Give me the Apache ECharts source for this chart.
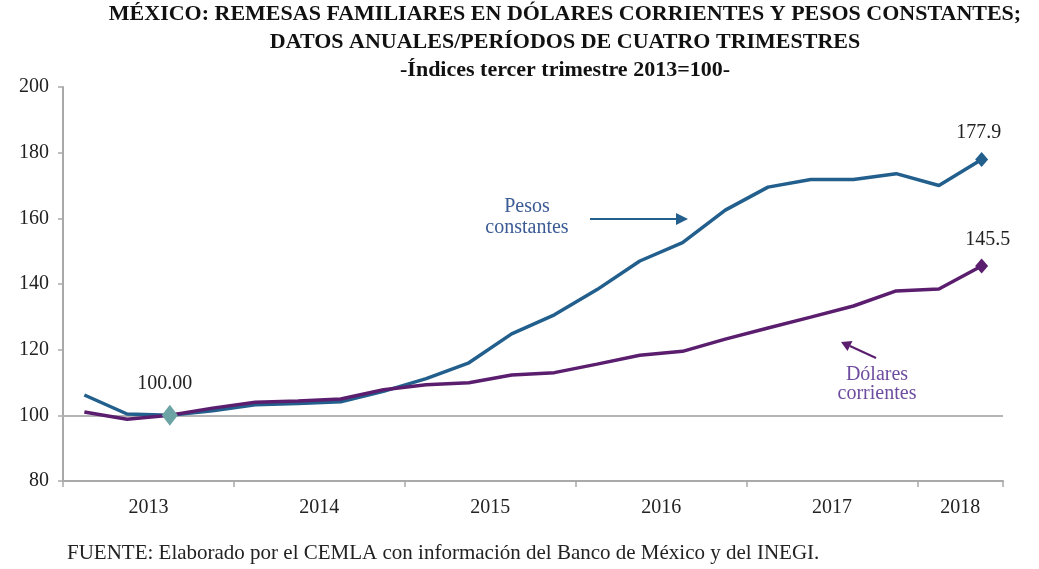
<!DOCTYPE html>
<html>
<head>
<meta charset="utf-8">
<script src="https://cdn.jsdelivr.net/npm/echarts@6/dist/echarts.min.js"></script>
<style>
  html, body { margin: 0; padding: 0; background: #fff; }
  #chart { width: 1039px; height: 569px; }
</style>
</head>
<body>
<div id="chart"></div>
<script>
  // trimestres (periodos de cuatro trimestres)
  const quarters = [
    '2013 T1', '2013 T2', '2013 T3', '2013 T4',
    '2014 T1', '2014 T2', '2014 T3', '2014 T4',
    '2015 T1', '2015 T2', '2015 T3', '2015 T4',
    '2016 T1', '2016 T2', '2016 T3', '2016 T4',
    '2017 T1', '2017 T2', '2017 T3', '2017 T4',
    '2018 T1', '2018 T2'
  ]
  const years = ['2013', '2014', '2015', '2016', '2017', '2018']
  const pesosConstantes = [106.2, 100.4, 100.0, 101.4, 103.2, 103.6, 104.1, 107.3, 111.2, 116.0, 124.8,
    130.6, 138.3, 147.0, 152.6, 162.5, 169.5, 171.8, 171.8, 173.6, 170.0, 177.9]
  const dolaresCorrientes = [101.0, 98.8, 100.0, 102.2, 104.0, 104.4, 105.0, 107.8, 109.3, 109.9, 112.3,
    113.0, 115.6, 118.3, 119.5, 123.2, 126.6, 129.9, 133.3, 137.9, 138.5, 145.5]
  const yMin = 80, yMax = 200, yStep = 20
  const baseIndex = 2   // tercer trimestre 2013 = 100

  const serif = 'Liberation Serif'
  const blue = '#225f8d'
  const purple = '#5b1e6e'
  const axisGray = '#a9a9a9'

  // posicion de cada año: centro de sus trimestres
  const yearAt = {}
  years.forEach(y => {
    const idx = []
    quarters.forEach((q, i) => { if (q.indexOf(y) === 0) idx.push(i + 0.5) })
    yearAt[idx.reduce((a, b) => a + b, 0) / idx.length] = y
  })

  const last = quarters.length - 1
  const labelStyle = { show: true, position: 'top', distance: 7, fontFamily: serif, fontSize: 20, color: '#222' }

  const pesosData = pesosConstantes.map((v, i) => {
    if (i !== last) return v
    return { value: v, symbol: 'diamond', symbolSize: [13, 15],
      label: Object.assign({}, labelStyle, { offset: [-3, -2], formatter: p => p.value.toFixed(1) }) }
  })
  const dolaresData = dolaresCorrientes.map((v, i) => {
    if (i === last) {
      return { value: v, symbol: 'diamond', symbolSize: [13, 15],
        label: Object.assign({}, labelStyle, { offset: [6, -2], formatter: p => p.value.toFixed(1) }) }
    }
    if (i === baseIndex) {
      return { value: v, symbol: 'diamond', symbolSize: [16, 21], itemStyle: { color: '#6ca4a6' },
        label: Object.assign({}, labelStyle, { distance: 11, offset: [-5, 0], formatter: p => p.value.toFixed(2) }) }
    }
    return v
  })

  const myChart = echarts.init(document.getElementById('chart'))
  myChart.setOption({
    animation: false,
    grid: { left: 63, right: 36, top: 87, bottom: 88 },
    xAxis: [
      {
        type: 'category',
        data: quarters,
        boundaryGap: true,
        axisLine: { lineStyle: { color: axisGray, width: 2 } },
        axisTick: { show: true, interval: i => i % 4 === 0, length: 6, lineStyle: { color: axisGray, width: 1.5 } },
        axisLabel: { show: false },
        splitLine: { show: false }
      },
      {
        type: 'value',
        position: 'bottom',
        min: 0,
        max: quarters.length,
        interval: 1,
        axisLine: { show: false },
        axisTick: { show: false },
        splitLine: { show: false },
        axisLabel: {
          margin: 17,
          fontFamily: serif, fontSize: 20, color: '#222',
          showMinLabel: true, showMaxLabel: true,
          formatter: v => yearAt[v] || ''
        }
      }
    ],
    yAxis: {
      type: 'value',
      min: yMin, max: yMax, interval: yStep,
      axisLine: { show: true, lineStyle: { color: axisGray, width: 2 } },
      axisTick: { show: true, length: 5, lineStyle: { color: axisGray, width: 1.5 } },
      axisLabel: { margin: 14, fontFamily: serif, fontSize: 20, color: '#222' },
      splitLine: { show: false }
    },
    series: [
      {
        name: 'Pesos constantes',
        type: 'line',
        data: pesosData,
        symbol: 'none',
        lineStyle: { color: blue, width: 3.5 },
        itemStyle: { color: blue },
        z: 3,
        markLine: {
          silent: true,
          symbol: 'none',
          z: 1,
          label: { show: false },
          lineStyle: { color: '#b5b5b5', width: 2, type: 'solid' },
          data: [{ yAxis: 100 }]
        }
      },
      {
        name: 'Dólares corrientes',
        type: 'line',
        data: dolaresData,
        symbol: 'none',
        lineStyle: { color: purple, width: 3.5 },
        itemStyle: { color: purple },
        z: 4
      }
    ],
    graphic: [
      {
        type: 'text', x: 565, y: 0,
        style: {
          text: 'MÉXICO: REMESAS FAMILIARES EN DÓLARES CORRIENTES Y PESOS CONSTANTES;\nDATOS ANUALES/PERÍODOS DE CUATRO TRIMESTRES\n-Índices tercer trimestre 2013=100-',
          textAlign: 'center', textVerticalAlign: 'top', font: 'bold 22px "Liberation Serif"', lineHeight: 28, fill: '#111'
        }
      },
      {
        type: 'text', x: 527, y: 196,
        style: { text: 'Pesos\nconstantes', textAlign: 'center', font: '20px "Liberation Serif"', lineHeight: 21, fill: '#3b5b94' }
      },
      {
        type: 'text', x: 877, y: 365,
        style: { text: 'Dólares\ncorrientes', textAlign: 'center', font: '20px "Liberation Serif"', lineHeight: 19, fill: '#6e4c9f' }
      },
      { type: 'line', shape: { x1: 590, y1: 219, x2: 678, y2: 219 }, style: { stroke: blue, lineWidth: 2 } },
      { type: 'polygon', shape: { points: [[688, 219], [676, 213], [676, 225]] }, style: { fill: blue } },
      { type: 'line', shape: { x1: 876, y1: 358, x2: 850, y2: 346 }, style: { stroke: purple, lineWidth: 2 } },
      { type: 'polygon', shape: { points: [[841, 342], [852.5, 341], [847.5, 351]] }, style: { fill: purple } },
      {
        type: 'text', x: 67, y: 553,
        style: { text: 'FUENTE: Elaborado por el CEMLA con información del Banco de México y del INEGI.',
          font: '21px "Liberation Serif"', fill: '#222', textVerticalAlign: 'middle' }
      }
    ]
  })

  window.addEventListener('resize', () => {
    myChart && myChart.resize()
  })
</script>
</body>
</html>
